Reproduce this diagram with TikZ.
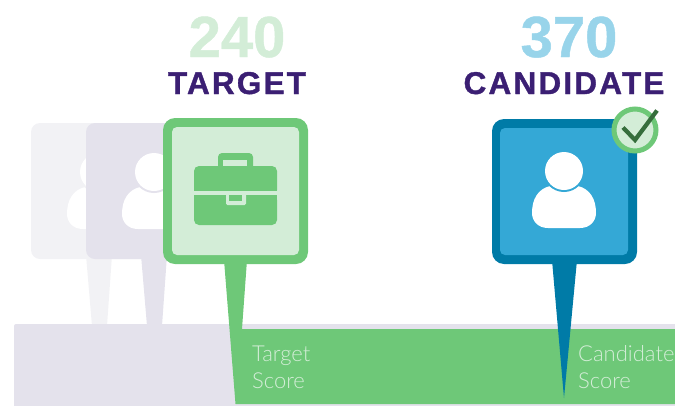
\documentclass[tikz,border=0pt]{standalone}
\usepackage{fontspec}
\setmainfont{Liberation Sans}
\newfontfamily\numfont[UprightFont=*-Bold,FakeBold=0.8]{Liberation Sans}
\newfontfamily\hdfont[UprightFont=*-Bold,FakeBold=1.2,LetterSpace=7]{Liberation Sans}
\newfontfamily\lblfont[UprightFont=* Light]{Lato}
\definecolor{grn}{HTML}{6EC878}
\definecolor{lgrn}{HTML}{D3EDD7}
\definecolor{grayb}{HTML}{E4E2EC}
\definecolor{ghost}{HTML}{F2F2F5}
\definecolor{blu}{HTML}{34A8D6}
\definecolor{dblu}{HTML}{007BA7}
\definecolor{lblu}{HTML}{98D4EA}
\definecolor{purp}{HTML}{3B1F73}
\definecolor{dgrn}{HTML}{366E3C}
\tikzset{
  bignum/.style={font=\numfont\fontsize{58}{58}\selectfont, inner sep=0pt, anchor=base},
  headword/.style={font=\hdfont\fontsize{31.5}{32}\selectfont, text=purp, inner sep=0pt, anchor=base},
  bandlabel/.style={font=\lblfont\fontsize{22}{26}\selectfont, text=lgrn, inner sep=0pt, anchor=base west},
  person/.pic={
    \fill[white] (-16,57) -- (16,57) .. controls (26,57) and (32,50) .. (32,42)
      .. controls (32,28) and (26,18) .. (14,15) -- (-14,15)
      .. controls (-26,18) and (-32,28) .. (-32,42) .. controls (-32,50) and (-26,57) .. (-16,57) -- cycle;
    \fill[pic actions] (0,0) circle (21);
    \fill[white] (0,0) circle (19);
  }
}
\begin{document}
\begin{tikzpicture}[x=1pt,y=-1pt]
\useasboundingbox (0,0) rectangle (675,405);
\clip (0,0) rectangle (675,405);
% ghost pins
\fill[ghost] (86,255) -- (112,255) -- (107,326) -- (92,326) -- cycle;
\fill[ghost, rounded corners=9] (31,123) rectangle (167,259);
\pic[fill=ghost] at (99,172) {person};
\fill[grayb] (141,255) -- (167,255) -- (162,326) -- (147,326) -- cycle;
\fill[grayb, rounded corners=9] (86,123) rectangle (222,259);
\pic[fill=grayb] at (154,172) {person};
% band
\fill[grayb, rounded corners=2] (14,420) -- (14,324) -- (690,324) -- (690,420) -- cycle;
% green score band with target stem
\fill[grn] (224,260) -- (247,260) -- (242,329) -- (675,329) -- (675,404) -- (235.5,404) -- cycle;
% target pin
\fill[grn, rounded corners=12] (163,118) rectangle (308,264);
\fill[lgrn, rounded corners=5] (172,127) rectangle (299,255);
% briefcase
\fill[grn, rounded corners=4] (218,153) rectangle (253,175);
\fill[lgrn] (223,160) rectangle (247,166);
\fill[grn, rounded corners=5] (194,166) rectangle (277,195);
\fill[grn] (194,186) rectangle (277,191);
\fill[grn, rounded corners=5] (194,195) rectangle (277,225);
\fill[grn] (194,195) rectangle (277,200);
\fill[lgrn] (194,191) rectangle (277,195);
\fill[lgrn, rounded corners=1.5] (226,193) rectangle (246,205);
\fill[grn] (229,195) rectangle (242,201);
% candidate pin
\fill[dblu] (552,260) -- (577,260) -- (564,398) -- cycle;
\fill[dblu, rounded corners=12] (492,119) rectangle (637,264);
\fill[blu, rounded corners=5] (500,128) rectangle (628,255);
\pic[fill=blu] at (564,171) {person};
% check badge
\fill[lgrn] (635,130) circle (21);
\draw[grn, line width=5] (635,130) circle (21);
\draw[dgrn, line width=4.2] (623,127.5) -- (635,140) -- (657,110.5);
% texts
\node[bignum, text=lgrn] (t240) at (237,57) {240};
\node[bignum, text=lblu] (t370) at (569,57) {370};
\node[headword] (ttarget) at (237,94) {TARGET};
\node[headword] (tcand) at (564,94) {CANDIDATE};
\node[bandlabel] (l1a) at (252,361) {Target};
\node[bandlabel] (l1b) at (252,388) {Score};
\node[bandlabel] (l2a) at (578,361) {Candidate};
\node[bandlabel] (l2b) at (578,388) {Score};
\end{tikzpicture}
\end{document}
